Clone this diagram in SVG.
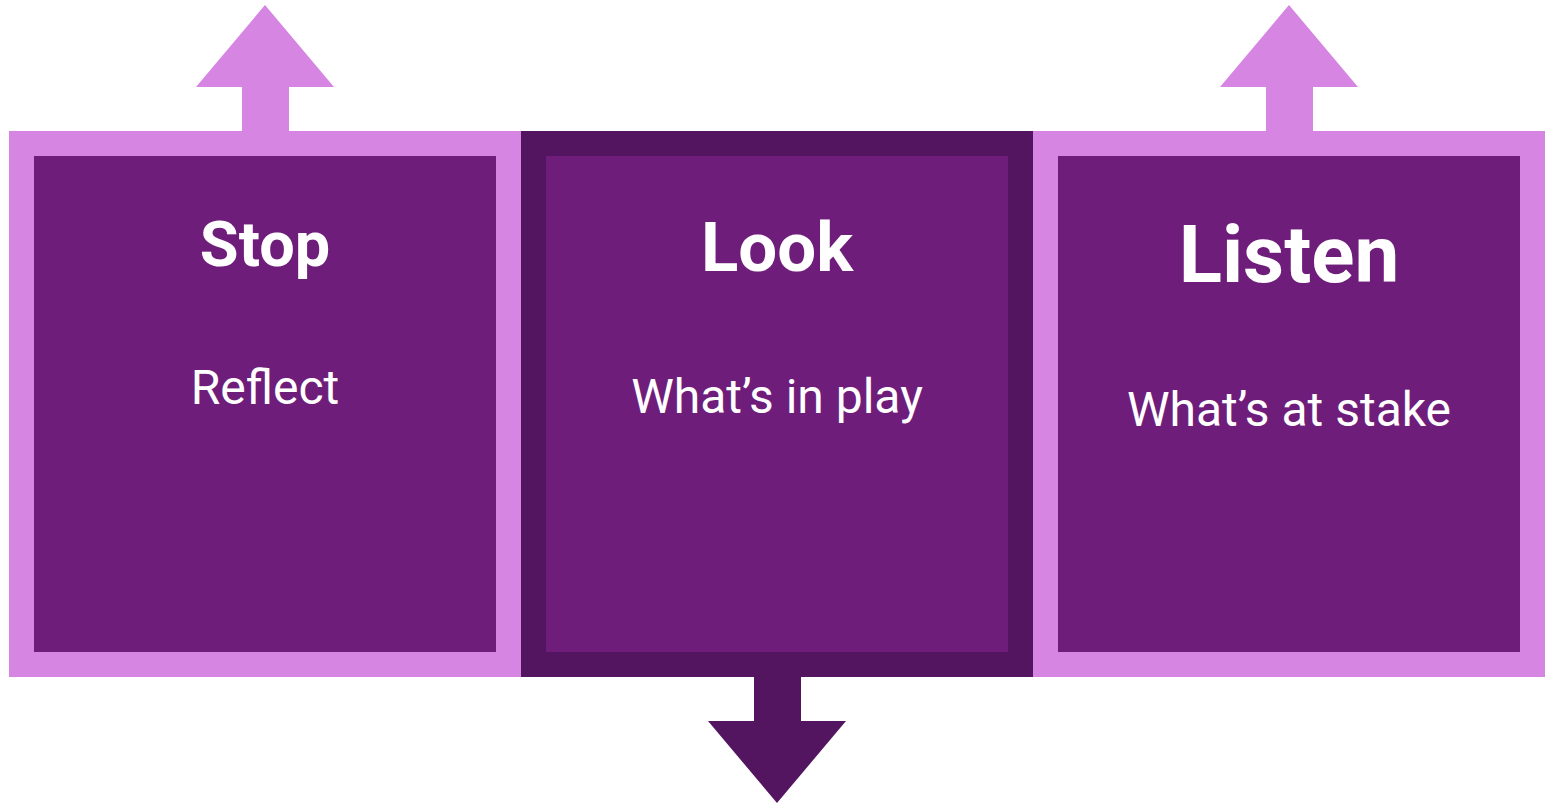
<svg xmlns="http://www.w3.org/2000/svg" width="1545" height="804" viewBox="0 0 1545 804">
<style>
.light{fill:#D685E3}
.dark{fill:#541560}
.inner{fill:#6F1D7B}
.t{font-family:Roboto,"Liberation Sans",sans-serif;fill:#fff;text-anchor:middle}
.b{font-weight:bold}
.s{font-size:48px}
</style>
<rect width="1545" height="804" fill="#fff"/>
<g id="connectors">
<polygon class="light" points="242,131 242,87 196,87 265,5 334,87 289,87 289,131"/>
<polygon class="light" points="1266,131 1266,87 1220,87 1289,5 1358,87 1313,87 1313,131"/>
<polygon class="dark" points="754,677 754,721 708,721 777,803 846,721 801,721 801,677"/>
</g>
<g id="stop">
<rect class="light" x="9" y="131" width="512" height="546"/>
<rect class="inner" x="34" y="156" width="462" height="496"/>
<text class="t b" x="265" y="266" font-size="63">Stop</text>
<text class="t s" x="265" y="404">Reflect</text>
</g>
<g id="look">
<rect class="dark" x="521" y="131" width="512" height="546"/>
<rect class="inner" x="546" y="156" width="462" height="496"/>
<text class="t b" x="777" y="271" font-size="69">Look</text>
<text class="t s" x="777" y="413">What’s in play</text>
</g>
<g id="listen">
<rect class="light" x="1033" y="131" width="512" height="546"/>
<rect class="inner" x="1058" y="156" width="462" height="496"/>
<text class="t b" x="1289" y="282" font-size="80">Listen</text>
<text class="t s" x="1289" y="426">What’s at stake</text>
</g>
</svg>
